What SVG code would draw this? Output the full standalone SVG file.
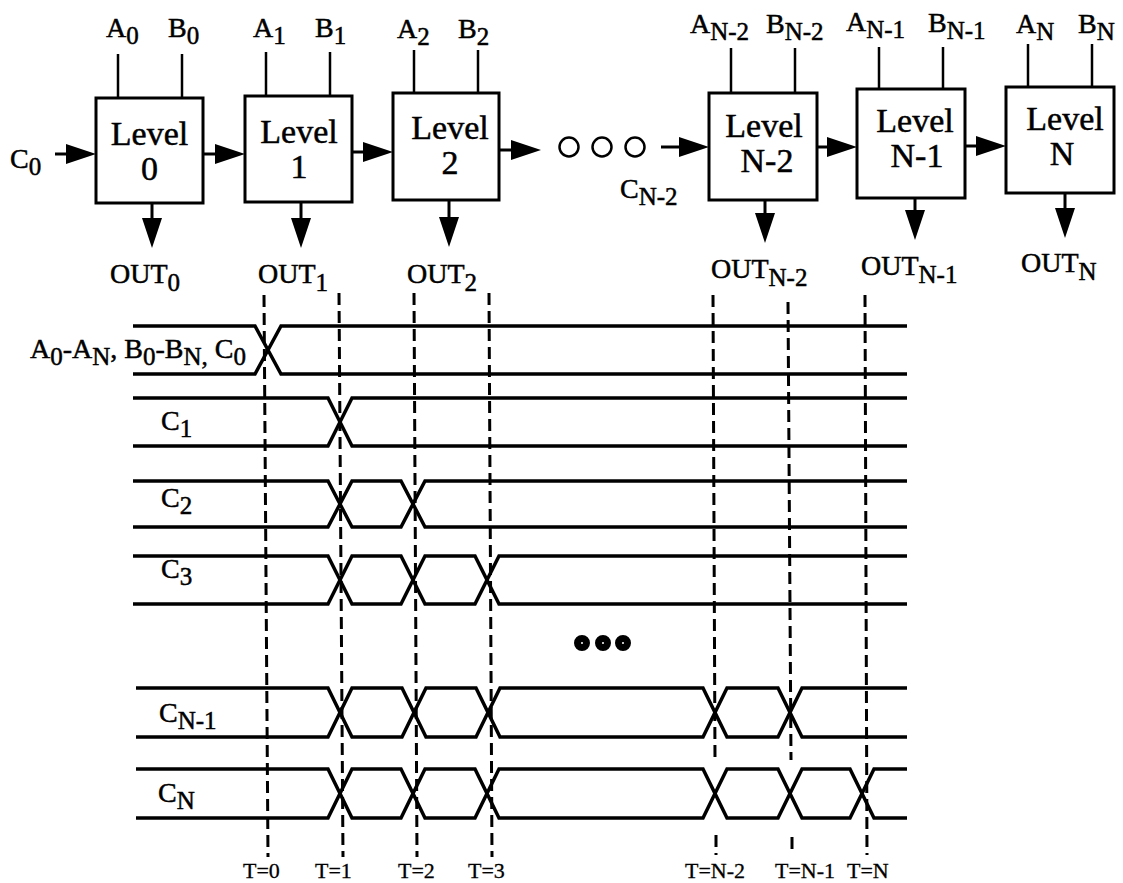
<svg xmlns="http://www.w3.org/2000/svg" width="1123" height="883" viewBox="0 0 1123 883">
<style>
  text { font-family: "Liberation Serif", "Times New Roman", serif; fill: #000; stroke: #000; stroke-width: 0.5; }
  .lbl { font-size: 28px; }
  .sub { font-size: 25px; }
  .lvl { font-size: 34px; text-anchor: middle; }
  .tl { font-size: 22px; stroke-width: 0.3; }
  .box { fill: #fff; stroke: #000; stroke-width: 3; }
  .in { stroke: #000; stroke-width: 2.5; fill: none; }
  .arr { stroke: #000; stroke-width: 3; fill: none; marker-end: url(#ah); }
  .sig { stroke: #000; stroke-width: 3.5; fill: none; stroke-linejoin: miter; }
  .dash { stroke: #000; stroke-width: 3; fill: none; stroke-dasharray: 12 6; }
  .ring { stroke: #000; stroke-width: 2.5; fill: none; }
  .dot { stroke: #000; stroke-width: 7; fill: #fff; }
</style>
<defs>
  <marker id="ah" markerUnits="userSpaceOnUse" markerWidth="30" markerHeight="20" refX="20" refY="10" orient="auto">
    <path d="M0,0 L30,10 L0,20 Z" fill="#000"/>
  </marker>
</defs>
<rect x="0" y="0" width="1123" height="883" fill="#fff"/>

<g id="connectors">
  <line class="in" x1="118" y1="54" x2="118" y2="98"/>
  <line class="in" x1="182" y1="54" x2="182" y2="98"/>
  <line class="in" x1="266" y1="52" x2="266" y2="96"/>
  <line class="in" x1="330" y1="52" x2="330" y2="96"/>
  <line class="in" x1="414" y1="50" x2="414" y2="93"/>
  <line class="in" x1="478" y1="50" x2="478" y2="93"/>
  <line class="in" x1="731" y1="48" x2="731" y2="93"/>
  <line class="in" x1="795" y1="48" x2="795" y2="93"/>
  <line class="in" x1="879" y1="47" x2="879" y2="89"/>
  <line class="in" x1="943" y1="47" x2="943" y2="89"/>
  <line class="in" x1="1028" y1="44" x2="1028" y2="87"/>
  <line class="in" x1="1092" y1="44" x2="1092" y2="87"/>

  <line class="arr" x1="55" y1="154" x2="86" y2="154"/>
  <line class="arr" x1="203" y1="154" x2="235" y2="154"/>
  <line class="arr" x1="352" y1="152" x2="383" y2="152"/>
  <line class="arr" x1="499" y1="150" x2="531" y2="150"/>
  <line class="arr" x1="661" y1="147" x2="699" y2="147"/>
  <line class="arr" x1="817" y1="147" x2="847" y2="147"/>
  <line class="arr" x1="965" y1="146" x2="996" y2="146"/>

  <line class="arr" x1="152" y1="203" x2="152" y2="238"/>
  <line class="arr" x1="301" y1="202" x2="301" y2="238"/>
  <line class="arr" x1="449" y1="200" x2="449" y2="237"/>
  <line class="arr" x1="765" y1="200" x2="765" y2="233"/>
  <line class="arr" x1="915" y1="198" x2="915" y2="230"/>
  <line class="arr" x1="1065" y1="193" x2="1065" y2="228"/>
</g>

<g id="input-c0">
  <text class="lbl" x="10" y="168">C<tspan class="sub" dy="7">0</tspan></text>
</g>

<g id="level-0">
  <rect class="box" x="96" y="98" width="107" height="105"/>
  <text class="lvl" x="149.5" y="145">Level</text>
  <text class="lvl" x="149.5" y="180">0</text>
  <text class="lbl" x="106" y="37">A<tspan class="sub" dy="7">0</tspan></text>
  <text class="lbl" x="168" y="37">B<tspan class="sub" dy="7">0</tspan></text>
  <text class="lbl" x="110" y="283">OUT<tspan class="sub" dy="8">0</tspan></text>
</g>

<g id="level-1">
  <rect class="box" x="245" y="96" width="107" height="106"/>
  <text class="lvl" x="299" y="143">Level</text>
  <text class="lvl" x="299" y="178">1</text>
  <text class="lbl" x="253" y="37">A<tspan class="sub" dy="7">1</tspan></text>
  <text class="lbl" x="315" y="37">B<tspan class="sub" dy="7">1</tspan></text>
  <text class="lbl" x="258" y="283">OUT<tspan class="sub" dy="8">1</tspan></text>
</g>

<g id="level-2">
  <rect class="box" x="393" y="93" width="106" height="107"/>
  <text class="lvl" x="450" y="139">Level</text>
  <text class="lvl" x="450" y="174">2</text>
  <text class="lbl" x="397" y="38">A<tspan class="sub" dy="7">2</tspan></text>
  <text class="lbl" x="458" y="38">B<tspan class="sub" dy="7">2</tspan></text>
  <text class="lbl" x="407" y="283">OUT<tspan class="sub" dy="8">2</tspan></text>
</g>

<g id="ellipsis-top">
  <circle class="ring" cx="569" cy="147" r="9.5"/>
  <circle class="ring" cx="602" cy="147" r="9.5"/>
  <circle class="ring" cx="635" cy="147" r="9.5"/>
  <text class="lbl" x="620" y="198">C<tspan class="sub" dy="7">N-2</tspan></text>
</g>

<g id="level-n-2">
  <rect class="box" x="709" y="93" width="108" height="107"/>
  <text class="lvl" x="764" y="137">Level</text>
  <text class="lvl" x="767" y="172">N-2</text>
  <text class="lbl" x="690" y="33">A<tspan class="sub" dy="7">N-2</tspan></text>
  <text class="lbl" x="766" y="33">B<tspan class="sub" dy="7">N-2</tspan></text>
  <text class="lbl" x="711" y="278">OUT<tspan class="sub" dy="8">N-2</tspan></text>
</g>

<g id="level-n-1">
  <rect class="box" x="857" y="89" width="108" height="109"/>
  <text class="lvl" x="915" y="132">Level</text>
  <text class="lvl" x="917" y="167">N-1</text>
  <text class="lbl" x="846" y="31">A<tspan class="sub" dy="7">N-1</tspan></text>
  <text class="lbl" x="928" y="32">B<tspan class="sub" dy="7">N-1</tspan></text>
  <text class="lbl" x="861" y="275">OUT<tspan class="sub" dy="8">N-1</tspan></text>
</g>

<g id="level-n">
  <rect class="box" x="1006" y="87" width="108" height="106"/>
  <text class="lvl" x="1065" y="130">Level</text>
  <text class="lvl" x="1062" y="165">N</text>
  <text class="lbl" x="1016" y="33">A<tspan class="sub" dy="7">N</tspan></text>
  <text class="lbl" x="1078" y="33">B<tspan class="sub" dy="7">N</tspan></text>
  <text class="lbl" x="1021" y="272">OUT<tspan class="sub" dy="8">N</tspan></text>
</g>

<g id="timing-lines">
  <line class="dash" x1="264" y1="295" x2="268" y2="857"/>
  <line class="dash" x1="339" y1="293" x2="343" y2="857"/>
  <line class="dash" x1="414" y1="293" x2="417" y2="857"/>
  <line class="dash" x1="489" y1="293" x2="492" y2="857"/>
  <line class="dash" x1="713" y1="295" x2="715" y2="760"/>
  <line class="dash" x1="716" y1="835" x2="716" y2="855"/>
  <line class="dash" x1="788" y1="302" x2="791" y2="760"/>
  <line class="dash" x1="792" y1="837" x2="792" y2="850"/>
  <line class="dash" x1="865" y1="295" x2="867" y2="855"/>
</g>

<g id="signal-inputs">
  <polyline class="sig" points="133,326 255,326 281,374 907,374"/>
  <polyline class="sig" points="133,374 255,374 281,326 907,326"/>
  <text class="lbl" x="30" y="358">A<tspan class="sub" dy="7">0</tspan><tspan dy="-7">-A</tspan><tspan class="sub" dy="7">N</tspan><tspan dy="-7">, B</tspan><tspan class="sub" dy="7">0</tspan><tspan dy="-7">-B</tspan><tspan class="sub" dy="7">N,</tspan><tspan dy="-7"> C</tspan><tspan class="sub" dy="7">0</tspan></text>
</g>

<g id="signal-c1">
  <polyline class="sig" points="133,398 328,398 352,446 907,446"/>
  <polyline class="sig" points="133,446 328,446 352,398 907,398"/>
  <text class="lbl" x="161" y="430">C<tspan class="sub" dy="7">1</tspan></text>
</g>

<g id="signal-c2">
  <polyline class="sig" points="133,481 328,481 352,527 401,527 425,481 907,481"/>
  <polyline class="sig" points="133,527 328,527 352,481 401,481 425,527 907,527"/>
  <text class="lbl" x="161" y="507">C<tspan class="sub" dy="7">2</tspan></text>
</g>

<g id="signal-c3">
  <polyline class="sig" points="133,556 328,556 352,604 401,604 425,556 475,556 499,604 907,604"/>
  <polyline class="sig" points="133,604 328,604 352,556 401,556 425,604 475,604 499,556 907,556"/>
  <text class="lbl" x="161" y="578">C<tspan class="sub" dy="7">3</tspan></text>
</g>

<g id="ellipsis-bottom">
  <circle class="dot" cx="582" cy="643" r="4.5"/>
  <circle class="dot" cx="603" cy="643" r="4.5"/>
  <circle class="dot" cx="623" cy="643" r="4.5"/>
</g>

<g id="signal-cn-1">
  <polyline class="sig" points="136,688 328,688 352,737 402,737 426,688 476,688 500,737 703,737 727,688 778,688 802,737 907,737"/>
  <polyline class="sig" points="136,737 328,737 352,688 402,688 426,737 476,737 500,688 703,688 727,737 778,737 802,688 907,688"/>
  <text class="lbl" x="159" y="722">C<tspan class="sub" dy="7">N-1</tspan></text>
</g>

<g id="signal-cn">
  <polyline class="sig" points="136,769 328,769 352,818 401,818 425,769 475,769 499,818 703,818 727,769 778,769 802,818 850,818 874,769 907,769"/>
  <polyline class="sig" points="136,818 328,818 352,769 401,769 425,818 475,818 499,769 703,769 727,818 778,818 802,769 850,769 874,818 907,818"/>
  <text class="lbl" x="158" y="802">C<tspan class="sub" dy="7">N</tspan></text>
</g>

<g id="time-labels">
  <text class="tl" x="243" y="878">T=0</text>
  <text class="tl" x="315" y="878">T=1</text>
  <text class="tl" x="398" y="878">T=2</text>
  <text class="tl" x="468" y="878">T=3</text>
  <text class="tl" x="685" y="878">T=N-2</text>
  <text class="tl" x="775" y="878">T=N-1</text>
  <text class="tl" x="847" y="878">T=N</text>
</g>
</svg>
